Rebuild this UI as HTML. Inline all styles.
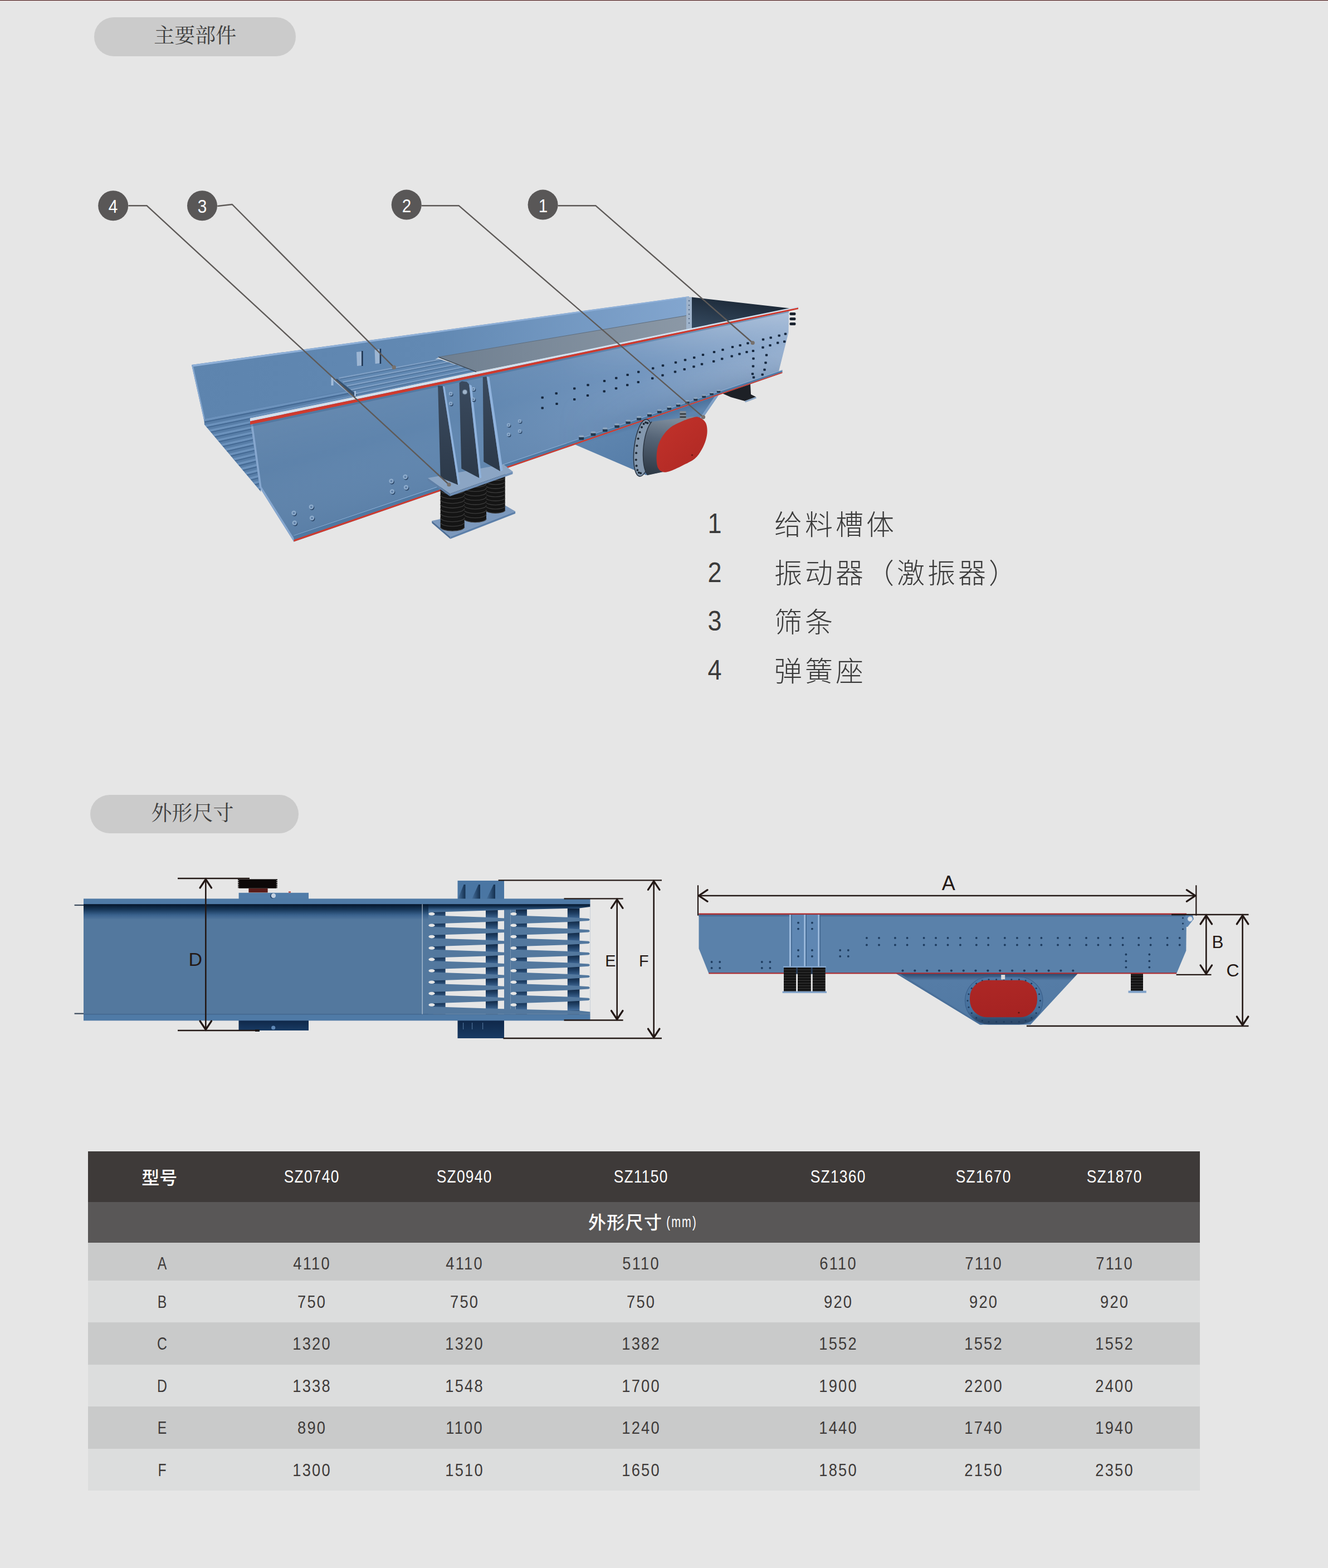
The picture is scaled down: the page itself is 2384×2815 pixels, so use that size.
<!DOCTYPE html>
<html lang="zh"><head><meta charset="utf-8"><title>振动给料机 主要部件 外形尺寸</title>
<style>
html,body{margin:0;padding:0}
body{width:2384px;height:2815px;background:#e6e6e6;position:relative;overflow:hidden;font-family:"Liberation Sans",sans-serif;color:#3e3a39}
.abs{position:absolute}
.pill{position:absolute;background:#cbcbcb;border-radius:40px}
svg{position:absolute;left:0;top:0;overflow:visible}
.t{position:absolute;white-space:nowrap;line-height:1;transform:translate(-50%,-50%)}
.row{position:absolute;left:158px;width:1996px}
.c{position:absolute;white-space:nowrap;line-height:1;font-size:31px;transform:translate(-50%,-50%) scaleX(.88);letter-spacing:2.5px;padding-left:2.5px;color:#3e3a39}
.l{transform:translate(-50%,-50%) scaleX(.8);letter-spacing:0;padding-left:0}
.hh{transform:translate(-50%,-50%) scaleX(.85);letter-spacing:1.5px;padding-left:1.5px}
.h{color:#fff}
.lab{position:absolute;white-space:nowrap;line-height:1;font-size:33px;color:#231815;transform:translate(-50%,-50%)}
.num{position:absolute;white-space:nowrap;line-height:1;font-size:33px;color:#fff;transform:translate(-50%,-50%) scaleX(.9)}
.lg{position:absolute;white-space:nowrap;line-height:1;font-size:50px;color:#3a3a3a;transform:translate(-50%,-50%) scaleX(.9)}
</style></head><body>

<div class="abs" style="left:0;top:0;width:2384px;height:1px;background:#3a1f1f"></div>
<div class="abs" style="left:0;top:1px;width:2384px;height:1px;background:#e9c9c9"></div>
<div class="pill" style="left:169.3px;top:31px;width:361.7px;height:69.5px"></div>
<div class="pill" style="left:162.3px;top:1427px;width:373.4px;height:69.3px"></div>
<span class="lg" style="left:1283px;top:940.4px">1</span>
<span class="lg" style="left:1283px;top:1027.7px">2</span>
<span class="lg" style="left:1283px;top:1115.4px">3</span>
<span class="lg" style="left:1283px;top:1203.0px">4</span>
<div class="row" style="top:2067px;height:90.5px;background:#3e3a39"></div>
<div class="row" style="top:2157.5px;height:73.0px;background:#595757"></div>
<div class="row" style="top:2230.5px;height:68.19999999999982px;background:#c9caca"></div>
<div class="row" style="top:2298.7px;height:75.0px;background:#dcdddd"></div>
<div class="row" style="top:2373.7px;height:76.30000000000018px;background:#c9caca"></div>
<div class="row" style="top:2450px;height:75px;background:#dcdddd"></div>
<div class="row" style="top:2525px;height:75.69999999999982px;background:#c9caca"></div>
<div class="row" style="top:2600.7px;height:75.30000000000018px;background:#dcdddd"></div>
<span class="c h hh" style="left:558.5px;top:2112.2px">SZ0740</span>
<span class="c h hh" style="left:832.5px;top:2112.2px">SZ0940</span>
<span class="c h hh" style="left:1150px;top:2112.2px">SZ1150</span>
<span class="c h hh" style="left:1504px;top:2112.2px">SZ1360</span>
<span class="c h hh" style="left:1765px;top:2112.2px">SZ1670</span>
<span class="c h hh" style="left:2000px;top:2112.2px">SZ1870</span>
<span class="c h" style="left:1222.7px;top:2194px;font-size:28px;letter-spacing:3px;padding-left:3px;transform:translate(-50%,-50%) scaleX(.72)">(mm)</span>
<span class="c l" style="left:291.3px;top:2267.7999999999997px">A</span>
<span class="c" style="left:558.5px;top:2267.7999999999997px">4110</span>
<span class="c" style="left:832.5px;top:2267.7999999999997px">4110</span>
<span class="c" style="left:1150px;top:2267.7999999999997px">5110</span>
<span class="c" style="left:1504px;top:2267.7999999999997px">6110</span>
<span class="c" style="left:1765px;top:2267.7999999999997px">7110</span>
<span class="c" style="left:2000px;top:2267.7999999999997px">7110</span>
<span class="c l" style="left:291.3px;top:2336.6px">B</span>
<span class="c" style="left:558.5px;top:2336.6px">750</span>
<span class="c" style="left:832.5px;top:2336.6px">750</span>
<span class="c" style="left:1150px;top:2336.6px">750</span>
<span class="c" style="left:1504px;top:2336.6px">920</span>
<span class="c" style="left:1765px;top:2336.6px">920</span>
<span class="c" style="left:2000px;top:2336.6px">920</span>
<span class="c l" style="left:291.3px;top:2412.25px">C</span>
<span class="c" style="left:558.5px;top:2412.25px">1320</span>
<span class="c" style="left:832.5px;top:2412.25px">1320</span>
<span class="c" style="left:1150px;top:2412.25px">1382</span>
<span class="c" style="left:1504px;top:2412.25px">1552</span>
<span class="c" style="left:1765px;top:2412.25px">1552</span>
<span class="c" style="left:2000px;top:2412.25px">1552</span>
<span class="c l" style="left:291.3px;top:2487.9px">D</span>
<span class="c" style="left:558.5px;top:2487.9px">1338</span>
<span class="c" style="left:832.5px;top:2487.9px">1548</span>
<span class="c" style="left:1150px;top:2487.9px">1700</span>
<span class="c" style="left:1504px;top:2487.9px">1900</span>
<span class="c" style="left:1765px;top:2487.9px">2200</span>
<span class="c" style="left:2000px;top:2487.9px">2400</span>
<span class="c l" style="left:291.3px;top:2563.25px">E</span>
<span class="c" style="left:558.5px;top:2563.25px">890</span>
<span class="c" style="left:832.5px;top:2563.25px">1100</span>
<span class="c" style="left:1150px;top:2563.25px">1240</span>
<span class="c" style="left:1504px;top:2563.25px">1440</span>
<span class="c" style="left:1765px;top:2563.25px">1740</span>
<span class="c" style="left:2000px;top:2563.25px">1940</span>
<span class="c l" style="left:291.3px;top:2638.75px">F</span>
<span class="c" style="left:558.5px;top:2638.75px">1300</span>
<span class="c" style="left:832.5px;top:2638.75px">1510</span>
<span class="c" style="left:1150px;top:2638.75px">1650</span>
<span class="c" style="left:1504px;top:2638.75px">1850</span>
<span class="c" style="left:1765px;top:2638.75px">2150</span>
<span class="c" style="left:2000px;top:2638.75px">2350</span>
<svg width="2384" height="2815" viewBox="0 0 2384 2815">
<g id="machine">
<defs>
<linearGradient id="mFront" gradientUnits="userSpaceOnUse" x1="450" y1="0" x2="1430" y2="0"><stop offset="0" stop-color="#5d82aa"/><stop offset=".4" stop-color="#6086af"/><stop offset=".72" stop-color="#7396bf"/><stop offset="1" stop-color="#96b0d1"/></linearGradient>
<linearGradient id="mFrontV" gradientUnits="userSpaceOnUse" x1="900" y1="630.7" x2="961.7" y2="853.6"><stop offset="0" stop-color="#fff" stop-opacity=".05"/><stop offset=".4" stop-color="#fff" stop-opacity="0"/><stop offset="1" stop-color="#1c3a5e" stop-opacity=".08"/></linearGradient>
<linearGradient id="mBack" gradientUnits="userSpaceOnUse" x1="344" y1="0" x2="1237" y2="0"><stop offset="0" stop-color="#5d84ae"/><stop offset=".5" stop-color="#6289b3"/><stop offset="1" stop-color="#83a6cf"/></linearGradient>
<linearGradient id="mGray" gradientUnits="userSpaceOnUse" x1="787" y1="0" x2="1232" y2="0"><stop offset="0" stop-color="#6f7f90"/><stop offset="1" stop-color="#8b98a6"/></linearGradient>
<linearGradient id="mDark" gradientUnits="userSpaceOnUse" x1="1300" y1="535" x2="1290" y2="590"><stop offset="0" stop-color="#1d2a39"/><stop offset="1" stop-color="#33475c"/></linearGradient>
<linearGradient id="mHop" gradientUnits="userSpaceOnUse" x1="1150" y1="745" x2="1180" y2="850"><stop offset="0" stop-color="#456b96"/><stop offset=".2" stop-color="#5d84ae"/><stop offset="1" stop-color="#557ca7"/></linearGradient>
<linearGradient id="mCyl" gradientUnits="userSpaceOnUse" x1="1185" y1="750" x2="1165" y2="855"><stop offset="0" stop-color="#7b8a9a"/><stop offset=".35" stop-color="#566577"/><stop offset="1" stop-color="#2b3642"/></linearGradient>
<linearGradient id="mRed" gradientUnits="userSpaceOnUse" x1="1190" y1="760" x2="1260" y2="840"><stop offset="0" stop-color="#c0312a"/><stop offset="1" stop-color="#b02924"/></linearGradient>
<linearGradient id="mGus" x1="0" y1="0" x2="0" y2="1"><stop offset="0" stop-color="#3a4a5e"/><stop offset="1" stop-color="#2c3949"/></linearGradient>
<linearGradient id="mFloor" gradientUnits="userSpaceOnUse" x1="370" y1="0" x2="650" y2="0"><stop offset="0" stop-color="#5880ab"/><stop offset="1" stop-color="#6a90ba"/></linearGradient>
<linearGradient id="mFadeH" gradientUnits="userSpaceOnUse" x1="1000" y1="0" x2="1433" y2="0"><stop offset="0" stop-color="#000"/><stop offset="1" stop-color="#fff"/></linearGradient>
<mask id="mRmask" maskUnits="userSpaceOnUse" x="900" y="500" width="600" height="400"><rect x="900" y="500" width="600" height="400" fill="url(#mFadeH)"/></mask>
<linearGradient id="mFrontV2" gradientUnits="userSpaceOnUse" x1="1300" y1="570" x2="1330" y2="700"><stop offset="0" stop-color="#fff" stop-opacity=".3"/><stop offset=".5" stop-color="#fff" stop-opacity="0"/><stop offset="1" stop-color="#1c3a5e" stop-opacity=".22"/></linearGradient>
</defs>
<polygon points="1296,706 1347,689.5 1348,708 1357,712.5 1337,720 1312,713" fill="#1d2026" />
<polygon points="1337,720 1357,712.5 1358,715 1338,722.5" fill="#8aa6c6" />
<polygon points="344,655 1237,531.9 1237,567 787,642 700,690 642,714 366.8,757" fill="url(#mBack)" />
<polygon points="344,655 1237,531.9 1237,534.1 345,658.5" fill="#8fb0d8" />
<polygon points="344,655 346.5,655 369,757 366.8,757" fill="#86a8d0" />
<clipPath id="mFloorClip"><polygon points="366.8,752 366.8,762 468.5,883 448.5,751 642,711.9 642,697"/></clipPath>
<polygon points="366.8,752 366.8,762 468.5,883 448.5,751 642,711.9 642,697" fill="#587ea8" />
<g clip-path="url(#mFloorClip)">
<polygon points="366.8,752 673.3,692.2 673.3,695.9 366.8,756.5" fill="#6c92bc" />
<polygon points="366.8,756.5 673.3,695.9 673.3,697.9 366.8,758.9" fill="#456a94" />
<polygon points="367.6,762.9 674,701.2 676.4,704.1 370.5,766.4" fill="#6c92bc" />
<polygon points="370.5,766.4 676.4,704.1 677.7,705.6 372,768.2" fill="#456a94" />
<polygon points="374.8,771.5 680,708.3 682.4,711.2 377.7,774.9" fill="#6c92bc" />
<polygon points="377.7,774.9 682.4,711.2 683.7,712.8 379.3,776.8" fill="#456a94" />
<polygon points="382,780.1 686,715.5 688.3,718.3 384.9,783.5" fill="#6c92bc" />
<polygon points="384.9,783.5 688.3,718.3 689.7,719.9 386.5,785.4" fill="#456a94" />
<polygon points="389.2,788.7 691.9,722.6 694.3,725.4 392.1,792.1" fill="#6c92bc" />
<polygon points="392.1,792.1 694.3,725.4 695.6,727 393.7,794" fill="#456a94" />
<polygon points="396.4,797.2 697.9,729.7 700.3,732.5 399.3,800.7" fill="#6c92bc" />
<polygon points="399.3,800.7 700.3,732.5 701.6,734.1 400.9,802.5" fill="#456a94" />
<polygon points="403.6,805.8 703.9,736.8 706.3,739.7 406.5,809.2" fill="#6c92bc" />
<polygon points="406.5,809.2 706.3,739.7 707.6,741.2 408.1,811.1" fill="#456a94" />
<polygon points="410.8,814.4 709.9,743.9 712.3,746.8 413.7,817.8" fill="#6c92bc" />
<polygon points="413.7,817.8 712.3,746.8 713.6,748.4 415.3,819.7" fill="#456a94" />
<polygon points="418,823 715.9,751.1 718.3,753.9 420.9,826.4" fill="#6c92bc" />
<polygon points="420.9,826.4 718.3,753.9 719.6,755.5 422.5,828.3" fill="#456a94" />
<polygon points="425.2,831.5 721.9,758.2 724.2,761 428.1,835" fill="#6c92bc" />
<polygon points="428.1,835 724.2,761 725.6,762.6 429.7,836.9" fill="#456a94" />
<polygon points="432.5,840.1 727.8,765.3 730.2,768.1 435.3,843.5" fill="#6c92bc" />
<polygon points="435.3,843.5 730.2,768.1 731.5,769.7 436.9,845.4" fill="#456a94" />
<polygon points="439.7,848.7 733.8,772.4 736.2,775.3 442.5,852.1" fill="#6c92bc" />
<polygon points="442.5,852.1 736.2,775.3 737.5,776.8 444.1,854" fill="#456a94" />
<polygon points="446.9,857.3 739.8,779.5 742.2,782.4 449.8,860.7" fill="#6c92bc" />
<polygon points="449.8,860.7 742.2,782.4 743.5,783.9 451.3,862.6" fill="#456a94" />
<polygon points="454.1,865.8 745.8,786.7 748.2,789.5 457,869.3" fill="#6c92bc" />
<polygon points="457,869.3 748.2,789.5 749.5,791.1 458.6,871.2" fill="#456a94" />
<polygon points="461.3,874.4 751.8,793.8 754.2,796.6 464.2,877.9" fill="#6c92bc" />
<polygon points="464.2,877.9 754.2,796.6 755.5,798.2 465.8,879.7" fill="#456a94" />
</g>
<polygon points="607,677 787,644 855,667 642,712" fill="#6188b2" />
<polygon points="607.7,677.7 788.4,644.5 792.7,645.9 609.9,679.9" fill="#7f9fc4" />
<polygon points="609.9,679.9 792.7,645.9 795.4,646.9 611.3,681.3" fill="#4d7199" />
<polygon points="614.7,684.7 802,649.1 806.3,650.5 616.9,686.9" fill="#7f9fc4" />
<polygon points="616.9,686.9 806.3,650.5 809,651.5 618.3,688.3" fill="#4d7199" />
<polygon points="621.7,691.7 815.6,653.7 819.9,655.1 623.9,693.9" fill="#7f9fc4" />
<polygon points="623.9,693.9 819.9,655.1 822.6,656.1 625.3,695.3" fill="#4d7199" />
<polygon points="628.7,698.7 829.2,658.3 833.5,659.7 630.9,700.9" fill="#7f9fc4" />
<polygon points="630.9,700.9 833.5,659.7 836.2,660.7 632.3,702.3" fill="#4d7199" />
<polygon points="635.7,705.7 842.8,662.9 847.1,664.3 637.9,707.9" fill="#7f9fc4" />
<polygon points="637.9,707.9 847.1,664.3 849.8,665.3 639.3,709.3" fill="#4d7199" />
<rect x="594.5" y="677" width="4" height="15" fill="#a3bddb" />
<polygon points="598,683 605,680 641,709 635,714" fill="#34506f" />
<polygon points="598,683 600,681.5 636.5,712.5 635,714" fill="#9fb9d8" />
<rect x="636" y="702" width="3" height="9" fill="#a3bddb" />
<polygon points="640,632 649,631 650,656 641,657" fill="#9db6d3" />
<rect x="649" y="630" width="2.6" height="27" fill="#1f3552" />
<polygon points="672.6,628 681.6,627 682.6,652 673.6,653" fill="#9db6d3" />
<rect x="681.6" y="626" width="2.6" height="27" fill="#1f3552" />
<polygon points="787,641 1232,566.6 1232,593 855,667.5" fill="url(#mGray)" />
<line x1="787" y1="641" x2="855" y2="667.5" stroke="#3c4957" stroke-width="1.4" />
<line x1="787" y1="641" x2="1232" y2="566.6" stroke="#5f6e7e" stroke-width="1" />
<polygon points="1232,533 1242,533.6 1242,590 1232,592" fill="#9fb3cb" />
<circle cx="1237" cy="540" r="1.3" fill="#5d7390"/>
<circle cx="1237" cy="548" r="1.3" fill="#5d7390"/>
<circle cx="1237" cy="556" r="1.3" fill="#5d7390"/>
<circle cx="1237" cy="564" r="1.3" fill="#5d7390"/>
<circle cx="1237" cy="572" r="1.3" fill="#5d7390"/>
<circle cx="1237" cy="580" r="1.3" fill="#5d7390"/>
<polygon points="1242,533.5 1418,553.5 1242,591" fill="url(#mDark)" />
<polygon points="1032.5,798.2 1290,709.3 1196,846 1160,853" fill="url(#mHop)" />
<polygon points="1290,709.3 1196,846 1190,847 1283,711.7" fill="#7fa0c6" />
<polygon points="449,751 1433,553.5 1416,559 1415.5,597 1397.5,668.5 1404.5,669.8 527.5,972.5 466,875" fill="url(#mFront)" />
<polygon points="449,751 1433,553.5 1416,559 1415.5,597 1397.5,668.5 1404.5,669.8 527.5,972.5 466,875" fill="url(#mFrontV)" />
<polygon points="449,751 1433,553.5 1416,559 1415.5,597 1397.5,668.5 1404.5,669.8 527.5,972.5 466,875" fill="url(#mFrontV2)" mask="url(#mRmask)"/>
<polygon points="449,751 452.5,751 469.5,874 530,970 527.5,972.5 466,875" fill="#86a7cf" />
<polygon points="449,750.8 700,699.6 950,648.6 1200,597.6 1433,550.1 1433,552.3 1200,600.6 950,652.4 700,704.3 449,756.3" fill="#d3dfec" />
<polygon points="449,756.3 700,704.3 950,652.4 1200,600.6 1433,552.3 1433,554.9 1200,604 950,656.7 700,709.4 449,762.3" fill="#cf3a2e" />
<polygon points="449,762.3 700,709.4 950,656.7 1200,604 1416,558.5 1416,560.7 1200,606.5 950,659.7 700,712.9 449,766.3" fill="#3f6590" opacity=".45"/>
<polygon points="527.5,960.9 800,868.6 1100,766.9 1404.5,663.8 1404.5,665 1100,768.1 800,869.8 527.5,962.1" fill="#8eb0d6" />
<polygon points="527.5,962.1 800,869.8 1100,768.1 1404.5,665 1404.5,668 1100,772.5 800,875.5 527.5,969.1" fill="#4f79a3" />
<polygon points="527.5,969.1 800,875.5 1100,772.5 1404.5,668 1404.5,669.8 1100,774.9 800,878.4 527.5,972.5" fill="#cf3a2e" />
<rect x="971.5" y="711.8" width="4.4" height="4" rx="1" fill="#16283f"/><rect x="996.5" y="704.2" width="4.4" height="4" rx="1" fill="#16283f"/><rect x="1029" y="695.5" width="4.4" height="4" rx="1" fill="#16283f"/><rect x="1053.3" y="689.2" width="4.4" height="4" rx="1" fill="#16283f"/><rect x="1082.8" y="682" width="4.4" height="4" rx="1" fill="#16283f"/><rect x="1104" y="676.8" width="4.4" height="4" rx="1" fill="#16283f"/><rect x="1124.4" y="671" width="4.4" height="4" rx="1" fill="#16283f"/><rect x="1144" y="665.8" width="4.4" height="4" rx="1" fill="#16283f"/><rect x="1170" y="659.2" width="4.4" height="4" rx="1" fill="#16283f"/><rect x="1187.8" y="654.2" width="4.4" height="4" rx="1" fill="#16283f"/><rect x="1210.8" y="648.8" width="4.4" height="4" rx="1" fill="#16283f"/><rect x="1227.8" y="644.2" width="4.4" height="4" rx="1" fill="#16283f"/><rect x="1244" y="640" width="4.4" height="4" rx="1" fill="#16283f"/><rect x="1259.8" y="635" width="4.4" height="4" rx="1" fill="#16283f"/><rect x="1279.8" y="630" width="4.4" height="4" rx="1" fill="#16283f"/><rect x="1295.3" y="626" width="4.4" height="4" rx="1" fill="#16283f"/><rect x="1312.8" y="621" width="4.4" height="4" rx="1" fill="#16283f"/><rect x="1326.5" y="618" width="4.4" height="4" rx="1" fill="#16283f"/><rect x="1340.3" y="614.2" width="4.4" height="4" rx="1" fill="#16283f"/><rect x="1367.8" y="607.5" width="4.4" height="4" rx="1" fill="#16283f"/><rect x="1381.5" y="604.2" width="4.4" height="4" rx="1" fill="#16283f"/><rect x="1396.5" y="600.5" width="4.4" height="4" rx="1" fill="#16283f"/><rect x="1407.8" y="597.5" width="4.4" height="4" rx="1" fill="#16283f"/><rect x="971.5" y="730.5" width="4.4" height="4" rx="1" fill="#16283f"/><rect x="997.3" y="723" width="4.4" height="4" rx="1" fill="#16283f"/><rect x="1029" y="715" width="4.4" height="4" rx="1" fill="#16283f"/><rect x="1052.8" y="708" width="4.4" height="4" rx="1" fill="#16283f"/><rect x="1082.5" y="700.5" width="4.4" height="4" rx="1" fill="#16283f"/><rect x="1103.8" y="695.2" width="4.4" height="4" rx="1" fill="#16283f"/><rect x="1124" y="689.2" width="4.4" height="4" rx="1" fill="#16283f"/><rect x="1143.6" y="684" width="4.4" height="4" rx="1" fill="#16283f"/><rect x="1169" y="677.3" width="4.4" height="4" rx="1" fill="#16283f"/><rect x="1187.3" y="671.8" width="4.4" height="4" rx="1" fill="#16283f"/><rect x="1209.8" y="665.5" width="4.4" height="4" rx="1" fill="#16283f"/><rect x="1226.5" y="661" width="4.4" height="4" rx="1" fill="#16283f"/><rect x="1243.3" y="656.2" width="4.4" height="4" rx="1" fill="#16283f"/><rect x="1257.8" y="651.8" width="4.4" height="4" rx="1" fill="#16283f"/><rect x="1279" y="646.8" width="4.4" height="4" rx="1" fill="#16283f"/><rect x="1294" y="642.2" width="4.4" height="4" rx="1" fill="#16283f"/><rect x="1311.5" y="637.5" width="4.4" height="4" rx="1" fill="#16283f"/><rect x="1325.3" y="633.5" width="4.4" height="4" rx="1" fill="#16283f"/><rect x="1338.3" y="630" width="4.4" height="4" rx="1" fill="#16283f"/><rect x="1367.3" y="621.8" width="4.4" height="4" rx="1" fill="#16283f"/><rect x="1380.3" y="618" width="4.4" height="4" rx="1" fill="#16283f"/><rect x="1394" y="613.5" width="4.4" height="4" rx="1" fill="#16283f"/><rect x="1406" y="611.2" width="4.4" height="4" rx="1" fill="#16283f"/><rect x="1349.8" y="628" width="4.4" height="4" rx="1" fill="#16283f"/><rect x="1350.3" y="641.8" width="4.4" height="4" rx="1" fill="#16283f"/><rect x="1349.8" y="655.5" width="4.4" height="4" rx="1" fill="#16283f"/><rect x="1348.8" y="669.2" width="4.4" height="4" rx="1" fill="#16283f"/><rect x="1350.8" y="675.5" width="4.4" height="4" rx="1" fill="#16283f"/><rect x="1373.8" y="635.5" width="4.4" height="4" rx="1" fill="#16283f"/><rect x="1372.3" y="649.2" width="4.4" height="4" rx="1" fill="#16283f"/><rect x="1370.3" y="661.8" width="4.4" height="4" rx="1" fill="#16283f"/><rect x="1366.5" y="670.5" width="4.4" height="4" rx="1" fill="#16283f"/>
<circle cx="528.7" cy="922.6" r="4.2" fill="#2a4566"/><circle cx="527.5" cy="921" r="4.2" fill="#8fadcd"/><circle cx="527.5" cy="921" r="2.1" fill="#5f80a8"/><circle cx="560" cy="911.6" r="4.2" fill="#2a4566"/><circle cx="558.8" cy="910" r="4.2" fill="#8fadcd"/><circle cx="558.8" cy="910" r="2.1" fill="#5f80a8"/><circle cx="530" cy="940.4" r="4.2" fill="#2a4566"/><circle cx="528.8" cy="938.8" r="4.2" fill="#8fadcd"/><circle cx="528.8" cy="938.8" r="2.1" fill="#5f80a8"/><circle cx="561.2" cy="931.6" r="4.2" fill="#2a4566"/><circle cx="560" cy="930" r="4.2" fill="#8fadcd"/><circle cx="560" cy="930" r="2.1" fill="#5f80a8"/><circle cx="703.7" cy="865.4" r="4.2" fill="#2a4566"/><circle cx="702.5" cy="863.8" r="4.2" fill="#8fadcd"/><circle cx="702.5" cy="863.8" r="2.1" fill="#5f80a8"/><circle cx="728.7" cy="857.6" r="4.2" fill="#2a4566"/><circle cx="727.5" cy="856" r="4.2" fill="#8fadcd"/><circle cx="727.5" cy="856" r="2.1" fill="#5f80a8"/><circle cx="705.2" cy="884.1" r="4.2" fill="#2a4566"/><circle cx="704" cy="882.5" r="4.2" fill="#8fadcd"/><circle cx="704" cy="882.5" r="2.1" fill="#5f80a8"/><circle cx="730.2" cy="876.6" r="4.2" fill="#2a4566"/><circle cx="729" cy="875" r="4.2" fill="#8fadcd"/><circle cx="729" cy="875" r="2.1" fill="#5f80a8"/><circle cx="914.2" cy="764.6" r="3.2" fill="#2a4566"/><circle cx="913" cy="763" r="3.2" fill="#8fadcd"/><circle cx="913" cy="763" r="1.6" fill="#5f80a8"/><circle cx="934.2" cy="757.6" r="3.2" fill="#2a4566"/><circle cx="933" cy="756" r="3.2" fill="#8fadcd"/><circle cx="933" cy="756" r="1.6" fill="#5f80a8"/><circle cx="914.2" cy="781.6" r="3.2" fill="#2a4566"/><circle cx="913" cy="780" r="3.2" fill="#8fadcd"/><circle cx="913" cy="780" r="1.6" fill="#5f80a8"/><circle cx="934.2" cy="775.6" r="3.2" fill="#2a4566"/><circle cx="933" cy="774" r="3.2" fill="#8fadcd"/><circle cx="933" cy="774" r="1.6" fill="#5f80a8"/>
<rect x="1039.2" y="783.8" width="9" height="6" rx="1.5" fill="#22384f"/><rect x="1039.2" y="781.6" width="9" height="3.4" rx="1.5" fill="#8fa7c0"/><rect x="1060.6" y="776.6" width="8.8" height="5.9" rx="1.5" fill="#22384f"/><rect x="1060.6" y="774.5" width="8.8" height="3.3" rx="1.5" fill="#8fa7c0"/><rect x="1081.9" y="769.5" width="8.6" height="5.8" rx="1.5" fill="#22384f"/><rect x="1081.9" y="767.4" width="8.6" height="3.3" rx="1.5" fill="#8fa7c0"/><rect x="1103.3" y="762.3" width="8.5" height="5.6" rx="1.5" fill="#22384f"/><rect x="1103.3" y="760.3" width="8.5" height="3.2" rx="1.5" fill="#8fa7c0"/><rect x="1123.4" y="755.6" width="8.3" height="5.5" rx="1.5" fill="#22384f"/><rect x="1123.4" y="753.6" width="8.3" height="3.1" rx="1.5" fill="#8fa7c0"/><rect x="1143" y="749" width="8.1" height="5.4" rx="1.5" fill="#22384f"/><rect x="1143" y="747.1" width="8.1" height="3.1" rx="1.5" fill="#8fa7c0"/><rect x="1162" y="742.6" width="7.9" height="5.3" rx="1.5" fill="#22384f"/><rect x="1162" y="740.8" width="7.9" height="3" rx="1.5" fill="#8fa7c0"/><rect x="1179.9" y="736.6" width="7.7" height="5.2" rx="1.5" fill="#22384f"/><rect x="1179.9" y="734.8" width="7.7" height="2.9" rx="1.5" fill="#8fa7c0"/><rect x="1197.5" y="730.7" width="7.6" height="5" rx="1.5" fill="#22384f"/><rect x="1197.5" y="729" width="7.6" height="2.9" rx="1.5" fill="#8fa7c0"/><rect x="1213.8" y="725.2" width="7.4" height="4.9" rx="1.5" fill="#22384f"/><rect x="1213.8" y="723.6" width="7.4" height="2.8" rx="1.5" fill="#8fa7c0"/><rect x="1230.2" y="719.7" width="7.2" height="4.8" rx="1.5" fill="#22384f"/><rect x="1230.2" y="718.2" width="7.2" height="2.7" rx="1.5" fill="#8fa7c0"/><rect x="1245.2" y="714.7" width="7" height="4.7" rx="1.5" fill="#22384f"/><rect x="1245.2" y="713.2" width="7" height="2.7" rx="1.5" fill="#8fa7c0"/><rect x="1260.3" y="709.6" width="6.8" height="4.6" rx="1.5" fill="#22384f"/><rect x="1260.3" y="708.2" width="6.8" height="2.6" rx="1.5" fill="#8fa7c0"/><rect x="1274.2" y="705" width="6.7" height="4.4" rx="1.5" fill="#22384f"/><rect x="1274.2" y="703.6" width="6.7" height="2.5" rx="1.5" fill="#8fa7c0"/><rect x="1286.8" y="700.8" width="6.5" height="4.3" rx="1.5" fill="#22384f"/><rect x="1286.8" y="699.5" width="6.5" height="2.4" rx="1.5" fill="#8fa7c0"/>
<rect x="1417.5" y="561" width="11" height="5" rx="2" fill="#1b2430"/>
<rect x="1417.5" y="570" width="11" height="5" rx="2" fill="#1b2430"/>
<rect x="1417.5" y="579" width="11" height="5" rx="2" fill="#1b2430"/>
<polygon points="775.3,935 808.4,963.4 925.1,918 906.7,907.3" fill="#7c99bd" />
<polygon points="775.3,935 808.4,963.4 808.4,967.5 775.3,939" fill="#4e6f97" />
<polygon points="808.4,963.4 925.1,918 925.1,922 808.4,967.5" fill="#5d80aa" />
<path d="M872 850V916A17.4 5.7 0 0 0 906.7 916V850Z" fill="#141414"/><path d="M872 850A17.4 5.7 0 0 0 906.7 850" fill="none" stroke="#3c3c3c" stroke-width="1.3"/><path d="M872 857.3A17.4 5.7 0 0 0 906.7 857.3" fill="none" stroke="#3c3c3c" stroke-width="1.3"/><path d="M872 864.7A17.4 5.7 0 0 0 906.7 864.7" fill="none" stroke="#3c3c3c" stroke-width="1.3"/><path d="M872 872A17.4 5.7 0 0 0 906.7 872" fill="none" stroke="#3c3c3c" stroke-width="1.3"/><path d="M872 879.3A17.4 5.7 0 0 0 906.7 879.3" fill="none" stroke="#3c3c3c" stroke-width="1.3"/><path d="M872 886.7A17.4 5.7 0 0 0 906.7 886.7" fill="none" stroke="#3c3c3c" stroke-width="1.3"/><path d="M872 894A17.4 5.7 0 0 0 906.7 894" fill="none" stroke="#3c3c3c" stroke-width="1.3"/><path d="M872 901.3A17.4 5.7 0 0 0 906.7 901.3" fill="none" stroke="#3c3c3c" stroke-width="1.3"/><path d="M872 908.7A17.4 5.7 0 0 0 906.7 908.7" fill="none" stroke="#3c3c3c" stroke-width="1.3"/><path d="M872 916A17.4 5.7 0 0 0 906.7 916" fill="none" stroke="#3c3c3c" stroke-width="1.3"/>
<path d="M833 860V931A20 6.6 0 0 0 873 931V860Z" fill="#141414"/><path d="M833 860A20 6.6 0 0 0 873 860" fill="none" stroke="#3c3c3c" stroke-width="1.3"/><path d="M833 867.9A20 6.6 0 0 0 873 867.9" fill="none" stroke="#3c3c3c" stroke-width="1.3"/><path d="M833 875.8A20 6.6 0 0 0 873 875.8" fill="none" stroke="#3c3c3c" stroke-width="1.3"/><path d="M833 883.7A20 6.6 0 0 0 873 883.7" fill="none" stroke="#3c3c3c" stroke-width="1.3"/><path d="M833 891.6A20 6.6 0 0 0 873 891.6" fill="none" stroke="#3c3c3c" stroke-width="1.3"/><path d="M833 899.4A20 6.6 0 0 0 873 899.4" fill="none" stroke="#3c3c3c" stroke-width="1.3"/><path d="M833 907.3A20 6.6 0 0 0 873 907.3" fill="none" stroke="#3c3c3c" stroke-width="1.3"/><path d="M833 915.2A20 6.6 0 0 0 873 915.2" fill="none" stroke="#3c3c3c" stroke-width="1.3"/><path d="M833 923.1A20 6.6 0 0 0 873 923.1" fill="none" stroke="#3c3c3c" stroke-width="1.3"/><path d="M833 931A20 6.6 0 0 0 873 931" fill="none" stroke="#3c3c3c" stroke-width="1.3"/>
<path d="M790.7 872V946A21.5 7.1 0 0 0 833.7 946V872Z" fill="#141414"/><path d="M790.7 872A21.5 7.1 0 0 0 833.7 872" fill="none" stroke="#3c3c3c" stroke-width="1.3"/><path d="M790.7 880.2A21.5 7.1 0 0 0 833.7 880.2" fill="none" stroke="#3c3c3c" stroke-width="1.3"/><path d="M790.7 888.4A21.5 7.1 0 0 0 833.7 888.4" fill="none" stroke="#3c3c3c" stroke-width="1.3"/><path d="M790.7 896.7A21.5 7.1 0 0 0 833.7 896.7" fill="none" stroke="#3c3c3c" stroke-width="1.3"/><path d="M790.7 904.9A21.5 7.1 0 0 0 833.7 904.9" fill="none" stroke="#3c3c3c" stroke-width="1.3"/><path d="M790.7 913.1A21.5 7.1 0 0 0 833.7 913.1" fill="none" stroke="#3c3c3c" stroke-width="1.3"/><path d="M790.7 921.3A21.5 7.1 0 0 0 833.7 921.3" fill="none" stroke="#3c3c3c" stroke-width="1.3"/><path d="M790.7 929.6A21.5 7.1 0 0 0 833.7 929.6" fill="none" stroke="#3c3c3c" stroke-width="1.3"/><path d="M790.7 937.8A21.5 7.1 0 0 0 833.7 937.8" fill="none" stroke="#3c3c3c" stroke-width="1.3"/><path d="M790.7 946A21.5 7.1 0 0 0 833.7 946" fill="none" stroke="#3c3c3c" stroke-width="1.3"/>
<polygon points="767.7,858.2 807.6,886.6 920.5,846.6 903.6,833.6" fill="#8ba5c4" />
<polygon points="767.7,858.2 807.6,886.6 807.6,891 767.7,862.5" fill="#5f7fa6" />
<polygon points="807.6,886.6 920.5,846.6 920.5,851 807.6,891" fill="#6f8fb6" />
<polygon points="786.1,692.3 794.9,693 822.2,870.4 790.7,857.4" fill="url(#mGus)" />
<polygon points="794.9,693 798.4,694.6 826,868.9 822.2,870.4" fill="#8fb2dc" />
<polygon points="866.7,676.9 873.7,676.1 898.2,845.9 868.3,829" fill="url(#mGus)" />
<polygon points="873.7,676.1 878.3,676.9 902.8,844.3 898.2,846.6" fill="#8fb2dc" />
<polygon points="824.5,687.3 829,684.6 838,685.6 842.2,690 860.6,858.2 828.3,841.3" fill="url(#mGus)" />
<polygon points="842.2,690 846.8,692.3 864.4,857.4 860.6,858.9" fill="#8fb2dc" />
<circle cx="834.5" cy="703.8" r="4.4" fill="#9fb3c9" stroke="#56697f" stroke-width="1.2"/>
<circle cx="810.3" cy="708.5" r="3.3" fill="#2a4566"/><circle cx="809.1" cy="706.9" r="3.3" fill="#8fadcd"/><circle cx="809.1" cy="706.9" r="1.6" fill="#5f80a8"/>
<circle cx="810.3" cy="726.1" r="3.3" fill="#2a4566"/><circle cx="809.1" cy="724.5" r="3.3" fill="#8fadcd"/><circle cx="809.1" cy="724.5" r="1.6" fill="#5f80a8"/>
<circle cx="851" cy="700" r="3.3" fill="#2a4566"/><circle cx="849.8" cy="698.4" r="3.3" fill="#8fadcd"/><circle cx="849.8" cy="698.4" r="1.6" fill="#5f80a8"/>
<circle cx="851" cy="718.4" r="3.3" fill="#2a4566"/><circle cx="849.8" cy="716.8" r="3.3" fill="#8fadcd"/><circle cx="849.8" cy="716.8" r="1.6" fill="#5f80a8"/>
<ellipse cx="1154.5" cy="804" rx="16" ry="51.5" transform="rotate(7 1154.5 804)" fill="#8397ad" stroke="#2c3846" stroke-width="1.6"/>
<circle cx="1162.4" cy="759.6" r="2" fill="#1c2733"/><circle cx="1159.2" cy="758.4" r="2" fill="#1c2733"/><circle cx="1155.6" cy="760.9" r="2" fill="#1c2733"/><circle cx="1152" cy="766.9" r="2" fill="#1c2733"/><circle cx="1148.6" cy="776" r="2" fill="#1c2733"/><circle cx="1145.6" cy="787.4" r="2" fill="#1c2733"/><circle cx="1143.4" cy="800.2" r="2" fill="#1c2733"/><circle cx="1142.1" cy="813.3" r="2" fill="#1c2733"/><circle cx="1141.8" cy="825.6" r="2" fill="#1c2733"/><circle cx="1142.6" cy="836.2" r="2" fill="#1c2733"/><circle cx="1144.3" cy="844" r="2" fill="#1c2733"/><circle cx="1146.9" cy="848.6" r="2" fill="#1c2733"/><circle cx="1150.1" cy="849.6" r="2" fill="#1c2733"/>
<path d="M1170 757 L1240.9 748 L1253.4 748.7 L1189.8 847.2 L1163 853 C1149 838 1153 776 1170 757Z" fill="url(#mCyl)"/>
<path d="M1170 757 C1153 776 1149 838 1163 853" fill="none" stroke="#2a3440" stroke-width="1.5"/>
<path d="M1253.4 748.7C1257.6 749.8 1263.2 753.5 1265.9 757.4C1268.6 761.3 1269.4 767 1269.6 772.4C1269.8 777.8 1268.8 784 1267.1 789.8C1265.4 795.6 1262.9 801.7 1259.6 807.3C1256.3 812.9 1253 818.7 1247.2 823.5C1241.4 828.3 1232.2 832.2 1224.7 836C1217.2 839.8 1208.1 844.1 1202.3 846C1196.5 847.9 1193.3 848.2 1189.8 847.2C1186.3 846.2 1183 843.9 1181.1 839.7C1179.2 835.6 1178.6 828.7 1178.6 822.3C1178.6 815.9 1179.2 807.8 1181.1 801.1C1183 794.5 1186.1 788 1189.8 782.4C1193.5 776.8 1197.7 771.8 1203.5 767.4C1209.3 763 1218.5 759 1224.7 756.2C1230.9 753.4 1236.1 751.9 1240.9 750.6C1245.7 749.4 1249.2 747.6 1253.4 748.7Z" fill="url(#mRed)"/>
<circle cx="1242.5" cy="817" r="1.6" fill="#6b1713"/>
<rect x="1220.5" y="738" width="11" height="16" fill="#828c96" />
<rect x="1220.5" y="742" width="11" height="2.4" fill="#30363c" />
<rect x="1220.5" y="747.5" width="11" height="2.4" fill="#30363c" />
<polyline points="230.4,369.3 263.7,369.3 806,870" fill="none" stroke="#5e5a58" stroke-width="2.4" stroke-linejoin="round"/>
<circle cx="806" cy="870" r="3.6" fill="#77716d"/>
<polyline points="390.3,370 416.8,367 707.3,659.4" fill="none" stroke="#5e5a58" stroke-width="2.4" stroke-linejoin="round"/>
<circle cx="707.3" cy="659.4" r="3.6" fill="#77716d"/>
<polyline points="756.5,369.3 823.9,369.3 1262.5,748.8" fill="none" stroke="#5e5a58" stroke-width="2.4" stroke-linejoin="round"/>
<circle cx="1262.5" cy="748.8" r="3.6" fill="#77716d"/>
<polyline points="1001.4,369.3 1069.5,369.3 1351.2,615.5" fill="none" stroke="#5e5a58" stroke-width="2.4" stroke-linejoin="round"/>
<circle cx="1351.2" cy="615.5" r="3.6" fill="#77716d"/>
<circle cx="203.2" cy="369.3" r="27" fill="#595757"/>
<circle cx="363" cy="369.3" r="27" fill="#595757"/>
<circle cx="729.7" cy="367.6" r="27" fill="#595757"/>
<circle cx="974.6" cy="367.6" r="27" fill="#595757"/>
</g>
<g id="topview">
<defs>
<linearGradient id="tvsh" x1="0" y1="0" x2="0" y2="1"><stop offset="0" stop-color="#04152a"/><stop offset=".35" stop-color="#173759"/><stop offset=".7" stop-color="#3a628d"/><stop offset="1" stop-color="#53789e"/></linearGradient>
<linearGradient id="tvbeam" gradientUnits="userSpaceOnUse" x1="0" y1="1630.6" x2="0" y2="1651" spreadMethod="repeat"><stop offset="0" stop-color="#0d213a"/><stop offset=".45" stop-color="#1f3f64"/><stop offset="1" stop-color="#456f9e"/></linearGradient>
<linearGradient id="tvrib" x1="0" y1="0" x2="1" y2="0"><stop offset="0" stop-color="#456f9c"/><stop offset="1" stop-color="#14304f"/></linearGradient>
<linearGradient id="tvbot" x1="0" y1="0" x2="0" y2="1"><stop offset="0" stop-color="#0f2748"/><stop offset="1" stop-color="#183a63"/></linearGradient>
</defs>
<rect x="427" y="1578.4" width="71" height="16.4" fill="#0d0808" />
<rect x="427" y="1580.5" width="2" height="1.2" fill="#e6e6e6" /><rect x="496" y="1580.5" width="2" height="1.2" fill="#e6e6e6" />
<rect x="427" y="1583.7" width="2" height="1.2" fill="#e6e6e6" /><rect x="496" y="1583.7" width="2" height="1.2" fill="#e6e6e6" />
<rect x="427" y="1586.9" width="2" height="1.2" fill="#e6e6e6" /><rect x="496" y="1586.9" width="2" height="1.2" fill="#e6e6e6" />
<rect x="427" y="1590.1" width="2" height="1.2" fill="#e6e6e6" /><rect x="496" y="1590.1" width="2" height="1.2" fill="#e6e6e6" />
<rect x="427" y="1593.3" width="2" height="1.2" fill="#e6e6e6" /><rect x="496" y="1593.3" width="2" height="1.2" fill="#e6e6e6" />
<rect x="446.4" y="1595" width="34.2" height="7.5" fill="#581c1a" />
<rect x="428.6" y="1602.8" width="125.4" height="12" fill="#517ca8" />
<circle cx="489.6" cy="1608.4" r="4.6" fill="#26466d"/><circle cx="490.9" cy="1608" r="4.2" fill="#c2d1e2"/>
<rect x="518" y="1600.5" width="4" height="2" fill="#b5322d" />
<rect x="428.5" y="1831" width="125.5" height="19" fill="url(#tvbot)" />
<circle cx="490.7" cy="1845" r="3.6" fill="#5f88b6"/>
<rect x="458" y="1848" width="8" height="4" fill="#101820" />
<rect x="821.5" y="1581" width="83.5" height="34" fill="#4a76a3" />
<polygon points="822,1614 832.5,1588 835.5,1588 835.5,1614" fill="url(#tvrib)" />
<polygon points="847,1614 859,1588 862,1588 862,1614" fill="url(#tvrib)" />
<polygon points="873.5,1614 886,1588 889,1588 889,1614" fill="url(#tvrib)" />
<rect x="821.5" y="1830" width="83.5" height="34" fill="url(#tvbot)" />
<rect x="831" y="1836" width="1.2" height="12" fill="#4b6f97" />
<rect x="847" y="1836" width="1.2" height="12" fill="#4b6f97" />
<rect x="866" y="1836" width="1.2" height="12" fill="#4b6f97" />
<line x1="133.6" y1="1625" x2="160" y2="1625" stroke="#3b4a5c" stroke-width="2.2" />
<line x1="133.6" y1="1819.7" x2="160" y2="1819.7" stroke="#3b4a5c" stroke-width="2.2" />
<rect x="150" y="1613.6" width="909.3" height="218.6" fill="#53789e" />
<rect x="150" y="1613.6" width="909.3" height="9.6" fill="#4f7aa6" />
<rect x="150" y="1623.2" width="619" height="28" fill="url(#tvsh)" />
<rect x="150" y="1820.4" width="909.3" height="1.2" fill="#3c5f87" />
<rect x="150" y="1821.6" width="909.3" height="10.6" fill="#4f7aa6" />
<rect x="778" y="1626" width="281.3" height="194.4" fill="#e6e6e6" />
<rect x="757.6" y="1623.2" width="1" height="197.5" fill="#cfd9e6" />
<rect x="778" y="1626" width="21.6" height="194.4" fill="url(#tvbeam)" />
<rect x="872" y="1626" width="21.7" height="194.4" fill="url(#tvbeam)" />
<rect x="925.5" y="1626" width="20.5" height="194.4" fill="url(#tvbeam)" />
<rect x="1018.8" y="1626" width="21.6" height="194.4" fill="url(#tvbeam)" />
<rect x="905" y="1623.2" width="11.5" height="197.5" fill="#53789e" />
<rect x="916.5" y="1626" width="8.5" height="194.4" fill="#53789e" />
<ellipse cx="775" cy="1640.8" rx="5.6" ry="2.8" fill="#e6e6e6"/>
<ellipse cx="922" cy="1640.8" rx="5.6" ry="2.8" fill="#e6e6e6"/>
<ellipse cx="775" cy="1661.2" rx="5.6" ry="2.8" fill="#e6e6e6"/>
<ellipse cx="922" cy="1661.2" rx="5.6" ry="2.8" fill="#e6e6e6"/>
<ellipse cx="775" cy="1681.6" rx="5.6" ry="2.8" fill="#e6e6e6"/>
<ellipse cx="922" cy="1681.6" rx="5.6" ry="2.8" fill="#e6e6e6"/>
<ellipse cx="775" cy="1702" rx="5.6" ry="2.8" fill="#e6e6e6"/>
<ellipse cx="922" cy="1702" rx="5.6" ry="2.8" fill="#e6e6e6"/>
<ellipse cx="775" cy="1722.4" rx="5.6" ry="2.8" fill="#e6e6e6"/>
<ellipse cx="922" cy="1722.4" rx="5.6" ry="2.8" fill="#e6e6e6"/>
<ellipse cx="775" cy="1742.8" rx="5.6" ry="2.8" fill="#e6e6e6"/>
<ellipse cx="922" cy="1742.8" rx="5.6" ry="2.8" fill="#e6e6e6"/>
<ellipse cx="775" cy="1763.2" rx="5.6" ry="2.8" fill="#e6e6e6"/>
<ellipse cx="922" cy="1763.2" rx="5.6" ry="2.8" fill="#e6e6e6"/>
<ellipse cx="775" cy="1783.6" rx="5.6" ry="2.8" fill="#e6e6e6"/>
<ellipse cx="922" cy="1783.6" rx="5.6" ry="2.8" fill="#e6e6e6"/>
<ellipse cx="775" cy="1804" rx="5.6" ry="2.8" fill="#e6e6e6"/>
<ellipse cx="922" cy="1804" rx="5.6" ry="2.8" fill="#e6e6e6"/>
<polygon points="777.5,1643.6 872,1646.7 910.7,1648.7 913,1651 910.7,1653.3 872,1655.3 777.5,1658.4" fill="#53789e" />
<polygon points="924.5,1643.6 1019,1646.7 1056.9,1648.9 1059,1651 1056.9,1653.1 1019,1655.3 924.5,1658.4" fill="#53789e" />
<polygon points="777.5,1664 872,1667.1 910.7,1669.1 913,1671.4 910.7,1673.7 872,1675.7 777.5,1678.8" fill="#53789e" />
<polygon points="924.5,1664 1019,1667.1 1056.9,1669.3 1059,1671.4 1056.9,1673.5 1019,1675.7 924.5,1678.8" fill="#53789e" />
<polygon points="777.5,1684.4 872,1687.5 910.7,1689.5 913,1691.8 910.7,1694.1 872,1696.1 777.5,1699.2" fill="#53789e" />
<polygon points="924.5,1684.4 1019,1687.5 1056.9,1689.7 1059,1691.8 1056.9,1693.9 1019,1696.1 924.5,1699.2" fill="#53789e" />
<polygon points="777.5,1704.8 872,1707.9 910.7,1709.9 913,1712.2 910.7,1714.5 872,1716.5 777.5,1719.6" fill="#53789e" />
<polygon points="924.5,1704.8 1019,1707.9 1056.9,1710.1 1059,1712.2 1056.9,1714.3 1019,1716.5 924.5,1719.6" fill="#53789e" />
<polygon points="777.5,1725.2 872,1728.3 910.7,1730.3 913,1732.6 910.7,1734.9 872,1736.9 777.5,1740" fill="#53789e" />
<polygon points="924.5,1725.2 1019,1728.3 1056.9,1730.5 1059,1732.6 1056.9,1734.7 1019,1736.9 924.5,1740" fill="#53789e" />
<polygon points="777.5,1745.6 872,1748.7 910.7,1750.7 913,1753 910.7,1755.3 872,1757.3 777.5,1760.4" fill="#53789e" />
<polygon points="924.5,1745.6 1019,1748.7 1056.9,1750.9 1059,1753 1056.9,1755.1 1019,1757.3 924.5,1760.4" fill="#53789e" />
<polygon points="777.5,1766 872,1769.1 910.7,1771.1 913,1773.4 910.7,1775.7 872,1777.7 777.5,1780.8" fill="#53789e" />
<polygon points="924.5,1766 1019,1769.1 1056.9,1771.3 1059,1773.4 1056.9,1775.5 1019,1777.7 924.5,1780.8" fill="#53789e" />
<polygon points="777.5,1786.4 872,1789.5 910.7,1791.5 913,1793.8 910.7,1796.1 872,1798.1 777.5,1801.2" fill="#53789e" />
<polygon points="924.5,1786.4 1019,1789.5 1056.9,1791.7 1059,1793.8 1056.9,1795.9 1019,1798.1 924.5,1801.2" fill="#53789e" />
<polygon points="769,1623.2 1059.3,1623.2 1059.3,1628 1040,1630.5 894,1634 778,1637.8 769,1638" fill="url(#tvsh)" />
<polygon points="769,1820.4 1059.3,1820.4 1059.3,1816.5 1040,1814.5 894,1811 769,1807" fill="#53789e" />
<line x1="319" y1="1577" x2="448" y2="1577" stroke="#231815" stroke-width="2.4" />
<line x1="319" y1="1850" x2="463.5" y2="1850" stroke="#231815" stroke-width="2.4" />
<line x1="369.3" y1="1577" x2="369.3" y2="1850" stroke="#231815" stroke-width="2.6" /><polyline points="379.6,1594 369.3,1578.5 359,1594" fill="none" stroke="#231815" stroke-width="3.2" stroke-linecap="round" stroke-linejoin="miter"/><polyline points="359,1833 369.3,1848.5 379.6,1833" fill="none" stroke="#231815" stroke-width="3.2" stroke-linecap="round" stroke-linejoin="miter"/>
<line x1="1012.5" y1="1613.4" x2="1118.6" y2="1613.4" stroke="#231815" stroke-width="2.4" />
<line x1="1012.5" y1="1831.5" x2="1118.6" y2="1831.5" stroke="#231815" stroke-width="2.4" />
<line x1="1107.7" y1="1613.4" x2="1107.7" y2="1831.5" stroke="#231815" stroke-width="2.6" /><polyline points="1118,1630.4 1107.7,1614.9 1097.4,1630.4" fill="none" stroke="#231815" stroke-width="3.2" stroke-linecap="round" stroke-linejoin="miter"/><polyline points="1097.4,1814.5 1107.7,1830 1118,1814.5" fill="none" stroke="#231815" stroke-width="3.2" stroke-linecap="round" stroke-linejoin="miter"/>
<line x1="894.6" y1="1580.4" x2="1188" y2="1580.4" stroke="#231815" stroke-width="2.4" />
<line x1="903.4" y1="1864" x2="1188" y2="1864" stroke="#231815" stroke-width="2.4" />
<line x1="1173.7" y1="1580.4" x2="1173.7" y2="1864" stroke="#231815" stroke-width="2.6" /><polyline points="1184,1597.4 1173.7,1581.9 1163.4,1597.4" fill="none" stroke="#231815" stroke-width="3.2" stroke-linecap="round" stroke-linejoin="miter"/><polyline points="1163.4,1847 1173.7,1862.5 1184,1847" fill="none" stroke="#231815" stroke-width="3.2" stroke-linecap="round" stroke-linejoin="miter"/>
</g>
<g id="sideview">
<defs>
<linearGradient id="svred" x1="0" y1="0" x2="0" y2="1"><stop offset="0" stop-color="#ad2725"/><stop offset="1" stop-color="#a62322"/></linearGradient>
<linearGradient id="svhop" x1="0" y1="0" x2="0" y2="1"><stop offset="0" stop-color="#2c4a6f"/><stop offset=".13" stop-color="#557ca6"/><stop offset="1" stop-color="#5179a3"/></linearGradient>
<pattern id="svspr" x="0" y="1737" width="10" height="4.8" patternUnits="userSpaceOnUse"><rect width="10" height="4.8" fill="#111"/><rect y="3.4" width="10" height="1.2" fill="#3a3a3a"/></pattern>
</defs>
<rect x="2030" y="1747" width="22" height="32" fill="url(#svspr)" />
<rect x="2025.5" y="1778.6" width="32.3" height="4" fill="#7fa1c8" />
<polygon points="1609,1748 1934.7,1748 1850,1839.5 1759,1839.5" fill="url(#svhop)" />
<polygon points="1609,1748 1759,1839.5 1764,1839.5 1616,1748" fill="#4a709a" />
<polygon points="1254.5,1640 2130,1640 2129.3,1706.7 2112,1748 1272.5,1748 1254.5,1703" fill="#5a81aa" />
<rect x="1254.5" y="1642.2" width="875" height="3" fill="#456b95" />
<rect x="1254.5" y="1639.6" width="875.5" height="2.6" fill="#ab2f33" />
<rect x="1272.5" y="1746.2" width="839.5" height="2.2" fill="#ab2f33" />
<polygon points="2128,1643 2141,1643 2143,1650 2132,1664 2128,1664" fill="#5d86b2" />
<circle cx="2136.4" cy="1649.8" r="3.8" fill="#e6e6e6" stroke="#c9d6e6" stroke-width="1.6"/>
<rect x="1417" y="1642.2" width="54.5" height="93.8" fill="#5f87b3" />
<rect x="1417" y="1642.2" width="3" height="93.8" fill="#9dbbdd" />
<rect x="1420" y="1642.2" width="1.6" height="93.8" fill="#41658d" />
<rect x="1443.3" y="1642.2" width="3" height="93.8" fill="#9dbbdd" />
<rect x="1446.3" y="1642.2" width="1.6" height="93.8" fill="#41658d" />
<rect x="1468.3" y="1642.2" width="3" height="93.8" fill="#9dbbdd" />
<rect x="1471.3" y="1642.2" width="1.6" height="93.8" fill="#41658d" />
<rect x="1406" y="1734.6" width="77" height="2.4" fill="#86a8cf" />
<rect x="1407" y="1737" width="74.7" height="43" fill="url(#svspr)" />
<rect x="1429.2" y="1748.5" width="2.8" height="31.5" fill="#e9e9e9" />
<rect x="1455.8" y="1748.5" width="2.9" height="31.5" fill="#e9e9e9" />
<rect x="1429.2" y="1737" width="2.8" height="11.5" fill="#2a3f5a" />
<rect x="1455.8" y="1737" width="2.9" height="11.5" fill="#2a3f5a" />
<rect x="1404.6" y="1779.6" width="79.4" height="3.2" fill="#7fa1c8" />
<circle cx="1555.9" cy="1683.9" r="1.9" fill="#1d3b5e"/><circle cx="1555.9" cy="1696.5" r="1.9" fill="#1d3b5e"/><circle cx="1578" cy="1683.9" r="1.9" fill="#1d3b5e"/><circle cx="1578" cy="1696.5" r="1.9" fill="#1d3b5e"/><circle cx="1606.9" cy="1683.9" r="1.9" fill="#1d3b5e"/><circle cx="1606.9" cy="1696.5" r="1.9" fill="#1d3b5e"/><circle cx="1628.6" cy="1683.9" r="1.9" fill="#1d3b5e"/><circle cx="1628.6" cy="1696.5" r="1.9" fill="#1d3b5e"/><circle cx="1658.6" cy="1683.9" r="1.9" fill="#1d3b5e"/><circle cx="1658.6" cy="1696.5" r="1.9" fill="#1d3b5e"/><circle cx="1680" cy="1683.9" r="1.9" fill="#1d3b5e"/><circle cx="1680" cy="1696.5" r="1.9" fill="#1d3b5e"/><circle cx="1701.5" cy="1683.9" r="1.9" fill="#1d3b5e"/><circle cx="1701.5" cy="1696.5" r="1.9" fill="#1d3b5e"/><circle cx="1723.9" cy="1683.9" r="1.9" fill="#1d3b5e"/><circle cx="1723.9" cy="1696.5" r="1.9" fill="#1d3b5e"/><circle cx="1752.8" cy="1683.9" r="1.9" fill="#1d3b5e"/><circle cx="1752.8" cy="1696.5" r="1.9" fill="#1d3b5e"/><circle cx="1774.1" cy="1683.9" r="1.9" fill="#1d3b5e"/><circle cx="1774.1" cy="1696.5" r="1.9" fill="#1d3b5e"/><circle cx="1803.8" cy="1683.9" r="1.9" fill="#1d3b5e"/><circle cx="1803.8" cy="1696.5" r="1.9" fill="#1d3b5e"/><circle cx="1825.9" cy="1683.9" r="1.9" fill="#1d3b5e"/><circle cx="1825.9" cy="1696.5" r="1.9" fill="#1d3b5e"/><circle cx="1848" cy="1683.9" r="1.9" fill="#1d3b5e"/><circle cx="1848" cy="1696.5" r="1.9" fill="#1d3b5e"/><circle cx="1869.4" cy="1683.9" r="1.9" fill="#1d3b5e"/><circle cx="1869.4" cy="1696.5" r="1.9" fill="#1d3b5e"/><circle cx="1899" cy="1683.9" r="1.9" fill="#1d3b5e"/><circle cx="1899" cy="1696.5" r="1.9" fill="#1d3b5e"/><circle cx="1920.4" cy="1683.9" r="1.9" fill="#1d3b5e"/><circle cx="1920.4" cy="1696.5" r="1.9" fill="#1d3b5e"/><circle cx="1950" cy="1683.9" r="1.9" fill="#1d3b5e"/><circle cx="1950" cy="1696.5" r="1.9" fill="#1d3b5e"/><circle cx="1971.4" cy="1683.9" r="1.9" fill="#1d3b5e"/><circle cx="1971.4" cy="1696.5" r="1.9" fill="#1d3b5e"/><circle cx="1993.2" cy="1683.9" r="1.9" fill="#1d3b5e"/><circle cx="1993.2" cy="1696.5" r="1.9" fill="#1d3b5e"/><circle cx="2015.6" cy="1683.9" r="1.9" fill="#1d3b5e"/><circle cx="2015.6" cy="1696.5" r="1.9" fill="#1d3b5e"/><circle cx="2044.2" cy="1683.9" r="1.9" fill="#1d3b5e"/><circle cx="2044.2" cy="1696.5" r="1.9" fill="#1d3b5e"/><circle cx="2065.6" cy="1683.9" r="1.9" fill="#1d3b5e"/><circle cx="2065.6" cy="1696.5" r="1.9" fill="#1d3b5e"/><circle cx="2095.6" cy="1683.9" r="1.9" fill="#1d3b5e"/><circle cx="2095.6" cy="1696.5" r="1.9" fill="#1d3b5e"/><circle cx="2117.7" cy="1683.9" r="1.9" fill="#1d3b5e"/><circle cx="2117.7" cy="1696.5" r="1.9" fill="#1d3b5e"/><circle cx="1277.6" cy="1727" r="1.9" fill="#1d3b5e"/><circle cx="1277.6" cy="1737.9" r="1.9" fill="#1d3b5e"/><circle cx="1292.2" cy="1727" r="1.9" fill="#1d3b5e"/><circle cx="1292.2" cy="1737.9" r="1.9" fill="#1d3b5e"/><circle cx="1367.8" cy="1727" r="1.9" fill="#1d3b5e"/><circle cx="1367.8" cy="1737.9" r="1.9" fill="#1d3b5e"/><circle cx="1382.4" cy="1727" r="1.9" fill="#1d3b5e"/><circle cx="1382.4" cy="1737.9" r="1.9" fill="#1d3b5e"/><circle cx="1433" cy="1656.7" r="1.9" fill="#1d3b5e"/><circle cx="1433" cy="1667.6" r="1.9" fill="#1d3b5e"/><circle cx="1457.9" cy="1656.7" r="1.9" fill="#1d3b5e"/><circle cx="1457.9" cy="1667.6" r="1.9" fill="#1d3b5e"/><circle cx="1433" cy="1706" r="1.9" fill="#1d3b5e"/><circle cx="1433" cy="1716.9" r="1.9" fill="#1d3b5e"/><circle cx="1457.9" cy="1706" r="1.9" fill="#1d3b5e"/><circle cx="1457.9" cy="1716.9" r="1.9" fill="#1d3b5e"/><circle cx="1508.2" cy="1706" r="1.9" fill="#1d3b5e"/><circle cx="1508.2" cy="1716.9" r="1.9" fill="#1d3b5e"/><circle cx="1522.8" cy="1706" r="1.9" fill="#1d3b5e"/><circle cx="1522.8" cy="1716.9" r="1.9" fill="#1d3b5e"/><circle cx="1620.5" cy="1742.6" r="2.1" fill="#1d3b5e"/><circle cx="1642.3" cy="1742.6" r="2.1" fill="#1d3b5e"/><circle cx="1664.2" cy="1742.6" r="2.1" fill="#1d3b5e"/><circle cx="1686" cy="1742.6" r="2.1" fill="#1d3b5e"/><circle cx="1707.9" cy="1742.6" r="2.1" fill="#1d3b5e"/><circle cx="1729.7" cy="1742.6" r="2.1" fill="#1d3b5e"/><circle cx="1751.5" cy="1742.6" r="2.1" fill="#1d3b5e"/><circle cx="1773.4" cy="1742.6" r="2.1" fill="#1d3b5e"/><circle cx="1795.2" cy="1742.6" r="2.1" fill="#1d3b5e"/><circle cx="1817.1" cy="1742.6" r="2.1" fill="#1d3b5e"/><circle cx="1838.9" cy="1742.6" r="2.1" fill="#1d3b5e"/><circle cx="1860.7" cy="1742.6" r="2.1" fill="#1d3b5e"/><circle cx="1882.6" cy="1742.6" r="2.1" fill="#1d3b5e"/><circle cx="1904.4" cy="1742.6" r="2.1" fill="#1d3b5e"/><circle cx="1926.3" cy="1742.6" r="2.1" fill="#1d3b5e"/><circle cx="2021.4" cy="1713.5" r="1.9" fill="#1d3b5e"/><circle cx="2021.4" cy="1725.4" r="1.9" fill="#1d3b5e"/><circle cx="2021.4" cy="1736.6" r="1.9" fill="#1d3b5e"/><circle cx="2063.3" cy="1713.5" r="1.9" fill="#1d3b5e"/><circle cx="2063.3" cy="1725.4" r="1.9" fill="#1d3b5e"/><circle cx="2063.3" cy="1736.6" r="1.9" fill="#1d3b5e"/><circle cx="2123.5" cy="1648" r="1.6" fill="#1d3b5e"/><circle cx="2123.5" cy="1658" r="1.6" fill="#1d3b5e"/><circle cx="2123.5" cy="1668" r="1.6" fill="#1d3b5e"/>
<linearGradient id="svfl" x1="0" y1="0" x2="0" y2="1"><stop offset="0" stop-color="#4f79a6"/><stop offset=".72" stop-color="#46709c"/><stop offset=".9" stop-color="#2f4d70"/><stop offset="1" stop-color="#2b4666"/></linearGradient>
<rect x="1732.5" y="1754" width="139.4" height="85" rx="42.5" fill="url(#svfl)" stroke="#3b608b" stroke-width="1.2"/>
<circle cx="1775" cy="1758.5" r="1.5" fill="#1d3b5e"/><circle cx="1829.4" cy="1758.5" r="1.5" fill="#1d3b5e"/><circle cx="1763.3" cy="1760.4" r="1.5" fill="#1d3b5e"/><circle cx="1841.1" cy="1760.4" r="1.5" fill="#1d3b5e"/><circle cx="1752.7" cy="1765.8" r="1.5" fill="#1d3b5e"/><circle cx="1851.7" cy="1765.8" r="1.5" fill="#1d3b5e"/><circle cx="1744.3" cy="1774.2" r="1.5" fill="#1d3b5e"/><circle cx="1860.1" cy="1774.2" r="1.5" fill="#1d3b5e"/><circle cx="1738.9" cy="1784.8" r="1.5" fill="#1d3b5e"/><circle cx="1865.5" cy="1784.8" r="1.5" fill="#1d3b5e"/><circle cx="1737" cy="1796.5" r="1.5" fill="#1d3b5e"/><circle cx="1867.4" cy="1796.5" r="1.5" fill="#1d3b5e"/><circle cx="1738.9" cy="1808.2" r="1.5" fill="#1d3b5e"/><circle cx="1865.5" cy="1808.2" r="1.5" fill="#1d3b5e"/><circle cx="1744.3" cy="1818.8" r="1.5" fill="#1d3b5e"/><circle cx="1860.1" cy="1818.8" r="1.5" fill="#1d3b5e"/><circle cx="1752.7" cy="1827.2" r="1.5" fill="#1d3b5e"/><circle cx="1851.7" cy="1827.2" r="1.5" fill="#1d3b5e"/><circle cx="1763.3" cy="1832.6" r="1.5" fill="#1d3b5e"/><circle cx="1841.1" cy="1832.6" r="1.5" fill="#1d3b5e"/><circle cx="1775" cy="1834.5" r="1.5" fill="#1d3b5e"/><circle cx="1829.4" cy="1834.5" r="1.5" fill="#1d3b5e"/><circle cx="1788.6" cy="1758.5" r="1.5" fill="#1d3b5e"/><circle cx="1788.6" cy="1834.5" r="1.5" fill="#1d3b5e"/><circle cx="1802.2" cy="1758.5" r="1.5" fill="#1d3b5e"/><circle cx="1802.2" cy="1834.5" r="1.5" fill="#1d3b5e"/><circle cx="1815.8" cy="1758.5" r="1.5" fill="#1d3b5e"/><circle cx="1815.8" cy="1834.5" r="1.5" fill="#1d3b5e"/>
<rect x="1741" y="1759.8" width="121" height="66.5" rx="31" fill="url(#svred)"/>
<rect x="1797.2" y="1750" width="7" height="8.4" fill="#d8dadd" />
<circle cx="1829" cy="1818" r="1.6" fill="#5a1512"/>
<line x1="1253" y1="1589.3" x2="1253" y2="1643.7" stroke="#231815" stroke-width="2.2" />
<line x1="2147.3" y1="1589.3" x2="2147.3" y2="1643.7" stroke="#231815" stroke-width="2.2" />
<line x1="1253" y1="1608" x2="2147.3" y2="1608" stroke="#231815" stroke-width="2.4" /><polyline points="1270,1597.7 1254.5,1608 1270,1618.3" fill="none" stroke="#231815" stroke-width="3.2" stroke-linecap="round" stroke-linejoin="miter"/><polyline points="2130.3,1618.3 2145.8,1608 2130.3,1597.7" fill="none" stroke="#231815" stroke-width="3.2" stroke-linecap="round" stroke-linejoin="miter"/>
<line x1="2103" y1="1642" x2="2241.5" y2="1642" stroke="#231815" stroke-width="2.4" />
<line x1="2111.6" y1="1749.9" x2="2174.5" y2="1749.9" stroke="#231815" stroke-width="2.4" />
<line x1="2165.3" y1="1642" x2="2165.3" y2="1749.9" stroke="#231815" stroke-width="2.6" /><polyline points="2175.6,1659 2165.3,1643.5 2155,1659" fill="none" stroke="#231815" stroke-width="3.2" stroke-linecap="round" stroke-linejoin="miter"/><polyline points="2155,1732.9 2165.3,1748.4 2175.6,1732.9" fill="none" stroke="#231815" stroke-width="3.2" stroke-linecap="round" stroke-linejoin="miter"/>
<line x1="1842.9" y1="1842" x2="2241.5" y2="1842" stroke="#231815" stroke-width="2.4" />
<line x1="2230.6" y1="1642" x2="2230.6" y2="1842" stroke="#231815" stroke-width="2.6" /><polyline points="2240.9,1659 2230.6,1643.5 2220.3,1659" fill="none" stroke="#231815" stroke-width="3.2" stroke-linecap="round" stroke-linejoin="miter"/><polyline points="2220.3,1825 2230.6,1840.5 2240.9,1825" fill="none" stroke="#231815" stroke-width="3.2" stroke-linecap="round" stroke-linejoin="miter"/>
</g>
<text x="350.2" y="77" font-size="37" fill="#3e3e3e" text-anchor="middle" font-family="'Liberation Serif','Noto Serif CJK SC',serif">主要部件</text>
<text x="345.5" y="1473" font-size="37" fill="#3e3e3e" text-anchor="middle" font-family="'Liberation Serif','Noto Serif CJK SC',serif">外形尺寸</text>
<text x="1390" y="960" font-size="50" letter-spacing="5" fill="#3a3a3a" font-weight="300" font-family="'Liberation Sans','Noto Sans CJK SC',sans-serif">给料槽体</text>
<text x="1390" y="1047.3" font-size="50" letter-spacing="5" fill="#3a3a3a" font-weight="300" font-family="'Liberation Sans','Noto Sans CJK SC',sans-serif">振动器（激振器）</text>
<text x="1390" y="1135" font-size="50" letter-spacing="5" fill="#3a3a3a" font-weight="300" font-family="'Liberation Sans','Noto Sans CJK SC',sans-serif">筛条</text>
<text x="1390" y="1222.6" font-size="50" letter-spacing="5" fill="#3a3a3a" font-weight="300" font-family="'Liberation Sans','Noto Sans CJK SC',sans-serif">弹簧座</text>
<text x="286.2" y="2126" font-size="32" fill="#fff" text-anchor="middle" font-weight="500" font-family="'Liberation Sans','Noto Sans CJK SC',sans-serif">型号</text>
<text x="1056" y="2206" font-size="32" letter-spacing="1.3" fill="#fff" font-weight="500" font-family="'Liberation Sans','Noto Sans CJK SC',sans-serif">外形尺寸</text>
</svg>
<span class="num" style="left:203.2px;top:370.3px">4</span>
<span class="num" style="left:363px;top:370.3px">3</span>
<span class="num" style="left:729.7px;top:368.6px">2</span>
<span class="num" style="left:974.6px;top:368.6px">1</span>
<span class="lab" style="left:350.75px;top:1722.4px;font-size:34px">D</span>
<span class="lab" style="left:1095.75px;top:1725px;font-size:28.8px">E</span>
<span class="lab" style="left:1155.7px;top:1725.3px;font-size:28.8px">F</span>
<span class="lab" style="left:1702.85px;top:1585.8px;font-size:36px">A</span>
<span class="lab" style="left:2186px;top:1691.9px;font-size:31.4px">B</span>
<span class="lab" style="left:2213px;top:1742.3px;font-size:32px">C</span>
</body></html>
